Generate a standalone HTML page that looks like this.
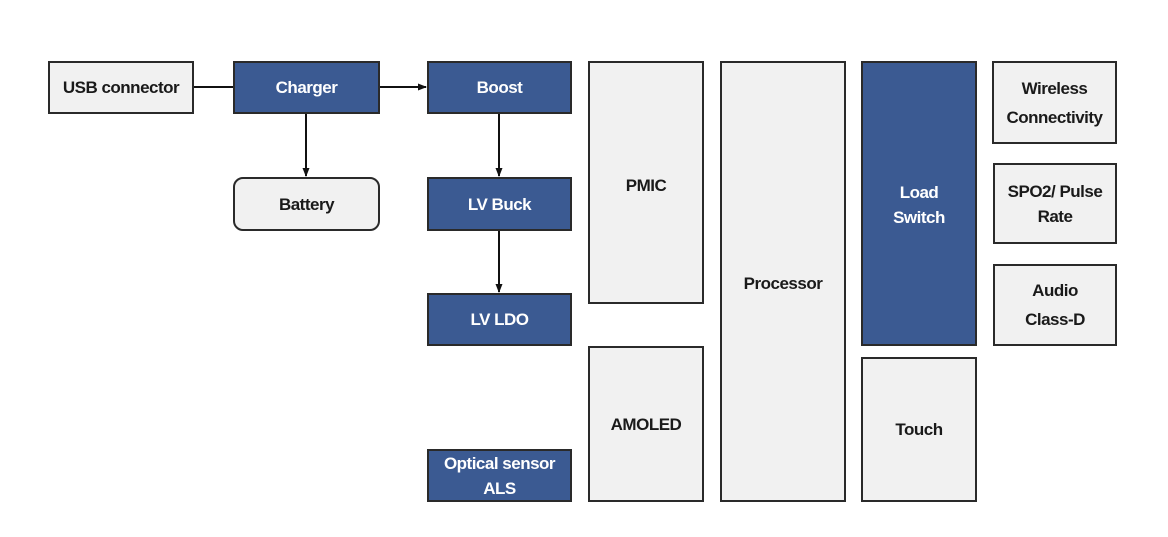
<!DOCTYPE html>
<html><head><meta charset="utf-8"><style>
body{margin:0;width:1168px;height:537px;background:#fff;position:relative;overflow:hidden;font-family:"Liberation Sans",Arial,sans-serif;}
.b{position:absolute;box-sizing:border-box;border:2px solid #2a2a2a;background:#f1f1f1;display:flex;align-items:center;justify-content:center;text-align:center;font-weight:bold;font-size:17px;color:#1a1a1a;line-height:25px;letter-spacing:-0.5px;}
.d{background:#3b5a92;color:#fff;}
svg{position:absolute;left:0;top:0;}
</style></head><body>
<svg width="1168" height="537">
<defs><marker id="a" markerUnits="userSpaceOnUse" markerWidth="9" markerHeight="8" refX="8" refY="4" orient="auto"><path d="M0,0.5 L9,4 L0,7.5 z" fill="#111"/></marker></defs>
<line x1="194" y1="87" x2="233" y2="87" stroke="#111" stroke-width="2"/>
<line x1="380" y1="87" x2="426" y2="87" stroke="#111" stroke-width="2" marker-end="url(#a)"/>
<line x1="306" y1="114" x2="306" y2="176" stroke="#111" stroke-width="2" marker-end="url(#a)"/>
<line x1="499" y1="114" x2="499" y2="176" stroke="#111" stroke-width="2" marker-end="url(#a)"/>
<line x1="499" y1="231" x2="499" y2="292" stroke="#111" stroke-width="2" marker-end="url(#a)"/>
</svg>
<div class="b" style="left:48px;top:61px;width:146px;height:53px">USB connector</div>
<div class="b d" style="left:233px;top:61px;width:147px;height:53px">Charger</div>
<div class="b d" style="left:427px;top:61px;width:145px;height:53px">Boost</div>
<div class="b" style="left:233px;top:177px;width:147px;height:54px;border-radius:10px">Battery</div>
<div class="b d" style="left:427px;top:177px;width:145px;height:54px">LV Buck</div>
<div class="b d" style="left:427px;top:293px;width:145px;height:53px">LV LDO</div>
<div class="b d" style="left:427px;top:449px;width:145px;height:53px">Optical sensor<br>ALS</div>
<div class="b" style="left:588px;top:61px;width:116px;height:243px;align-items:flex-start;padding-top:110px">PMIC</div>
<div class="b" style="left:588px;top:346px;width:116px;height:156px">AMOLED</div>
<div class="b" style="left:720px;top:61px;width:126px;height:441px;align-items:flex-start;padding-top:208px">Processor</div>
<div class="b d" style="left:861px;top:61px;width:116px;height:285px;align-items:flex-start;padding-top:117px">Load<br>Switch</div>
<div class="b" style="left:861px;top:357px;width:116px;height:145px">Touch</div>
<div class="b" style="left:992px;top:61px;width:125px;height:83px;line-height:29px">Wireless<br>Connectivity</div>
<div class="b" style="left:993px;top:163px;width:124px;height:81px">SPO2/ Pulse<br>Rate</div>
<div class="b" style="left:993px;top:264px;width:124px;height:82px;line-height:29px">Audio<br>Class-D</div>
</body></html>
